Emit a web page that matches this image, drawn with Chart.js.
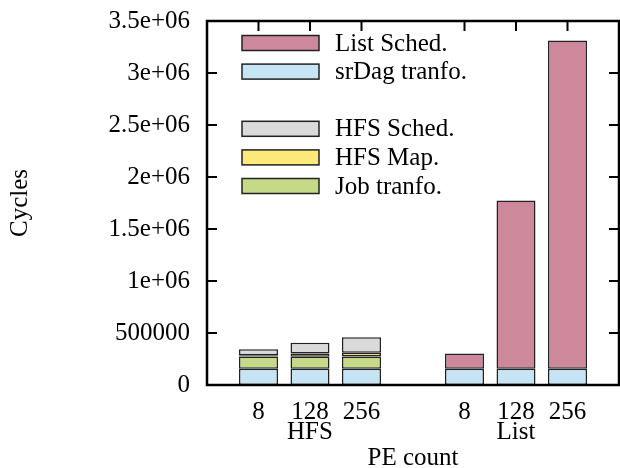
<!DOCTYPE html>
<html>
<head>
<meta charset="utf-8">
<script src="https://cdn.jsdelivr.net/npm/chart.js@4"></script>
<style>
  html, body { margin: 0; padding: 0; background: #fff; }
  #wrap { width: 620px; height: 468px; }
</style>
</head>
<body>
<div id="wrap"><canvas id="chart"></canvas></div>
<script>
// values (cycles)
var peCounts = ["8", "128", "256", "8", "128", "256"];
var groups = ["HFS", "List"];
var srDagTranfo = [156000, 156000, 156000, 156000, 156000, 156000];
var jobTranfo = [119000, 116000, 118000, null, null, null];
var hfsMap = [12000, 31000, 36000, null, null, null];
var hfsSched = [57000, 103000, 150000, null, null, null];
var listSched = [null, null, null, 147000, 1618000, 3156000];
var yTickLabels = ["0", "500000", "1e+06", "1.5e+06", "2e+06", "2.5e+06", "3e+06", "3.5e+06"];

var FONT = { family: "'Liberation Serif', 'Times New Roman', serif", size: 25, lineHeight: "20px" };

// one empty slot on each side and one between the two groups
function spread(arr) {
  return [null, arr[0], arr[1], arr[2], null, arr[3], arr[4], arr[5], null];
}
var slotLabels = spread(peCounts).map(function (l, i) {
  if (l === null) return "";
  if (i === 2) return [l, groups[0]];
  if (i === 6) return [l, groups[1]];
  return [l];
});

function serie(label, data, color) {
  return {
    label: label,
    data: spread(data),
    backgroundColor: color,
    borderColor: "#222",
    borderWidth: 1.5,
    borderSkipped: false,
    barPercentage: 0.757,
    categoryPercentage: 1,
  };
}

var datasets = [
  serie("srDag tranfo.", srDagTranfo, "rgb(198, 228, 244)"),
  serie("Job tranfo.", jobTranfo, "rgb(198, 217, 134)"),
  serie("HFS Map.", hfsMap, "rgb(253, 232, 122)"),
  serie("HFS Sched.", hfsSched, "rgb(218, 218, 218)"),
  serie("List Sched.", listSched, "rgb(205, 137, 155)"),
];

// legend order, null = empty row
var legendOrder = ["List Sched.", "srDag tranfo.", null, "HFS Sched.", "HFS Map.", "Job tranfo."];

// gnuplot-like frame with inward ticks
var framePlugin = {
  id: "frame",
  afterDatasetsDraw: function (chart) {
    var ctx = chart.ctx, a = chart.chartArea;
    var xs = chart.scales.x, ys = chart.scales.y;
    ctx.save();
    ctx.strokeStyle = "#000";
    ctx.lineWidth = 2.5;
    ctx.strokeRect(a.left, a.top, a.right - a.left, a.bottom - a.top);
    ctx.lineWidth = 2;
    ctx.beginPath();
    ys.ticks.forEach(function (t, i) {
      var y = ys.getPixelForTick(i);
      ctx.moveTo(a.left, y); ctx.lineTo(a.left + 10, y);
      ctx.moveTo(a.right, y); ctx.lineTo(a.right - 10, y);
    });
    slotLabels.forEach(function (l, i) {
      if (l === "") return;
      var x = xs.getPixelForValue(i);
      ctx.moveTo(x, a.top); ctx.lineTo(x, a.top + 10);
    });
    ctx.stroke();
    ctx.restore();
  },
};

var legendPlugin = {
  id: "insideLegend",
  afterDraw: function (chart) {
    var ctx = chart.ctx, a = chart.chartArea;
    var x0 = a.left + 35, boxW = 77, boxH = 15, rowH = 28.6, y0 = a.top + 22;
    ctx.save();
    ctx.font = FONT.size + "px " + FONT.family;
    ctx.textBaseline = "middle";
    legendOrder.forEach(function (name, r) {
      if (!name) return;
      var ds = chart.data.datasets.find(function (d) { return d.label === name; });
      var y = y0 + r * rowH;
      ctx.fillStyle = ds.backgroundColor;
      ctx.fillRect(x0, y - boxH / 2, boxW, boxH);
      ctx.strokeStyle = "#222";
      ctx.lineWidth = 1.5;
      ctx.strokeRect(x0, y - boxH / 2, boxW, boxH);
      ctx.fillStyle = "#000";
      ctx.textAlign = "left";
      ctx.fillText(name, x0 + 93, y + 1);
    });
    ctx.restore();
  },
};

var ctx = document.getElementById("chart").getContext("2d");
var chart = new Chart(ctx, {
  type: "bar",
  data: { labels: slotLabels, datasets: datasets },
  options: {
    responsive: true,
    maintainAspectRatio: false,
    animation: false,
    layout: { padding: { top: 21, right: 1, left: 0, bottom: 0 } },
    plugins: { legend: { display: false }, tooltip: { enabled: false } },
    scales: {
      x: {
        stacked: true,
        offset: false,
        grid: { display: false, drawTicks: false },
        border: { display: false },
        ticks: { padding: 17, maxRotation: 0, autoSkip: false, color: "#000", font: FONT },
        title: { display: true, text: "PE count", color: "#000", font: FONT, padding: { top: 0, bottom: 0 } },
        afterFit: function (s) {
          s.height = 83;
          s.paddingLeft = 0;
          s.paddingRight = 0;
        },
      },
      y: {
        stacked: true,
        min: 0,
        max: 3500000,
        grid: { display: false, drawTicks: false },
        border: { display: false },
        ticks: {
          stepSize: 500000,
          padding: 17,
          color: "#000",
          font: FONT,
          callback: function (v, i) { return yTickLabels[i]; },
        },
        title: { display: true, text: "Cycles", color: "#000", font: FONT, padding: { top: 10, bottom: 0 } },
        afterFit: function (s) {
          s.width = 207;
          s.paddingTop = 0;
          s.paddingBottom = 0;
        },
      },
    },
  },
  plugins: [framePlugin, legendPlugin],
});
</script>
</body>
</html>
